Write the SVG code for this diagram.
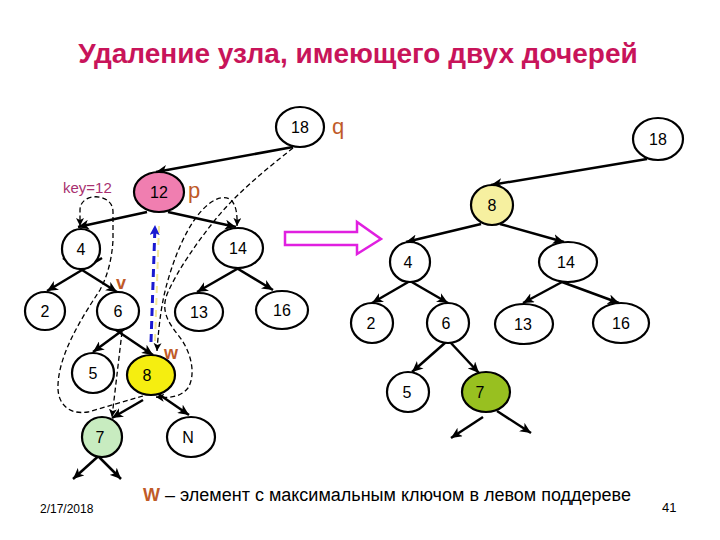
<svg xmlns="http://www.w3.org/2000/svg" width="720" height="540" viewBox="0 0 720 540">
<defs>
  <marker id="ah" markerUnits="userSpaceOnUse" markerWidth="12" markerHeight="10" refX="11" refY="5" orient="auto">
    <path d="M0,0 L11,5 L0,10 L3,5 z" fill="#000"/>
  </marker>
  <marker id="ahd" markerUnits="userSpaceOnUse" markerWidth="9" markerHeight="8" refX="8" refY="4" orient="auto-start-reverse">
    <path d="M0,0 L8,4 L0,8 L2,4 z" fill="#000"/>
  </marker>
  <marker id="ahb" markerUnits="userSpaceOnUse" markerWidth="10" markerHeight="12" refX="9" refY="5" orient="auto">
    <path d="M0,0 L10,5 L0,10 L2,5 z" fill="#1a1ad0"/>
  </marker>
</defs>
<style>
  .n ellipse { fill: #fff; stroke: #000; stroke-width: 2.2; }
  .n text { font-family: "Liberation Sans", Arial, sans-serif; font-size: 16px; text-anchor: middle; fill: #000; }
  .e { stroke: #000; stroke-width: 2.5; fill: none; marker-end: url(#ah); }
  .d { stroke: #000; stroke-width: 1.3; fill: none; stroke-dasharray: 5,3; }
  .lbl { font-family: "Liberation Sans", Arial, sans-serif; fill: #c05a28; }
</style>
<rect width="720" height="540" fill="#fff"/>

<text x="358" y="63" font-family="'Liberation Sans', Arial, sans-serif" font-size="28" font-weight="bold" fill="#c8145a" text-anchor="middle">Удаление узла, имеющего двух дочерей</text>

<g id="connectors">
  <!-- left tree -->
  <line class="e" x1="293" y1="147" x2="156" y2="172"/>
  <line class="e" x1="147" y1="212" x2="78" y2="227"/>
  <line class="e" x1="168" y1="212" x2="236" y2="227"/>
  <line class="e" x1="102" y1="258" x2="47" y2="291"/>
  <line class="e" x1="63" y1="258" x2="117" y2="292"/>
  <line class="e" x1="256" y1="258" x2="197" y2="292"/>
  <line class="e" x1="220" y1="258" x2="273" y2="290"/>
  <line class="e" x1="131" y1="324" x2="93" y2="352"/>
  <line class="e" x1="107" y1="324" x2="153" y2="355"/>
  <line class="e" x1="143" y1="400" x2="112" y2="418"/>
  <line class="e" x1="157" y1="393" x2="189" y2="415"/>
  <line class="e" x1="114" y1="442" x2="73" y2="479"/>
  <line class="e" x1="84" y1="442" x2="121" y2="479"/>
  <!-- right tree -->
  <line class="e" x1="647" y1="159" x2="491" y2="185"/>
  <line class="e" x1="481" y1="224" x2="406" y2="242"/>
  <line class="e" x1="500" y1="224" x2="564" y2="242"/>
  <line class="e" x1="410" y1="281" x2="372" y2="303"/>
  <line class="e" x1="410" y1="281" x2="448" y2="303"/>
  <line class="e" x1="562" y1="282" x2="523" y2="303"/>
  <line class="e" x1="562" y1="282" x2="619" y2="303"/>
  <line class="e" x1="446" y1="342" x2="412" y2="372"/>
  <line class="e" x1="450" y1="342" x2="479" y2="373"/>
  <line class="e" x1="483" y1="417" x2="451" y2="438"/>
  <line class="e" x1="497" y1="411" x2="531" y2="433"/>
  <!-- dashed search/relink paths -->
  <path class="d" marker-end="url(#ahd)" d="M143,396 L88,412 C70,415 57,405 58,385 C59,355 80,320 100,290 C108,275 112,258 113,240 L113,212 C113,192 80,192 80,210 L80,226"/>
  <path class="d" marker-end="url(#ahd)" d="M122,332 L112,417"/>
  <path class="d" marker-start="url(#ahd)" marker-end="url(#ahd)" d="M157,351 C159,322 162,300 168,280 C178,245 195,210 215,200 C232,192 238,205 237,226"/>
  <path class="d" marker-end="url(#ahd)" d="M293,148 C265,170 235,195 215,220 C195,245 178,270 168,292 C160,310 168,322 178,335 C192,352 196,375 188,388 C180,398 168,398 156,397"/>
  <line x1="155" y1="341" x2="159" y2="226" stroke="#f0e070" stroke-width="2" stroke-dasharray="7,5" opacity="0.7"/>
  <line x1="151" y1="342" x2="155" y2="226" stroke="#1a1ad0" stroke-width="3" stroke-dasharray="8,5" marker-end="url(#ahb)"/>
</g>

<!-- left tree nodes -->
<g id="L18" class="n"><ellipse cx="300" cy="127" rx="24" ry="20"/><text x="300" y="133">18</text></g>
<g id="L12" class="n"><ellipse cx="159" cy="192" rx="25" ry="20" style="fill:#f07eb0"/><text x="159" y="198">12</text></g>
<g id="L4" class="n"><ellipse cx="81" cy="249" rx="19" ry="20"/><text x="81" y="255">4</text></g>
<g id="L14" class="n"><ellipse cx="238" cy="248" rx="25" ry="20"/><text x="238" y="254">14</text></g>
<g id="L2" class="n"><ellipse cx="45" cy="311" rx="20" ry="19"/><text x="45" y="317">2</text></g>
<g id="L6" class="n"><ellipse cx="118" cy="311" rx="21" ry="19"/><text x="118" y="317">6</text></g>
<g id="L13" class="n"><ellipse cx="199" cy="312" rx="24" ry="19"/><text x="199" y="318">13</text></g>
<g id="L16" class="n"><ellipse cx="282" cy="310" rx="26" ry="19"/><text x="282" y="316">16</text></g>
<g id="L5" class="n"><ellipse cx="93" cy="373" rx="21" ry="20"/><text x="93" y="379">5</text></g>
<g id="L8" class="n"><ellipse cx="151" cy="375" rx="24" ry="20" style="fill:#f5ee10"/><text x="147" y="381">8</text></g>
<g id="L7" class="n"><ellipse cx="102" cy="437" rx="20" ry="20" style="fill:#c8ecc0"/><text x="100" y="443">7</text></g>
<g id="LN" class="n"><ellipse cx="191" cy="437" rx="24" ry="20"/><text x="188" y="443">N</text></g>

<!-- right tree nodes -->
<g id="R18" class="n"><ellipse cx="658" cy="139" rx="25" ry="21"/><text x="658" y="145">18</text></g>
<g id="R8" class="n"><ellipse cx="492" cy="205" rx="21" ry="20" style="fill:#f6f0a0"/><text x="492" y="211">8</text></g>
<g id="R4" class="n"><ellipse cx="410" cy="262" rx="20" ry="20"/><text x="408" y="268">4</text></g>
<g id="R14" class="n"><ellipse cx="568" cy="262" rx="29" ry="20"/><text x="566" y="268">14</text></g>
<g id="R2" class="n"><ellipse cx="372" cy="323" rx="21" ry="20"/><text x="371" y="329">2</text></g>
<g id="R6" class="n"><ellipse cx="448" cy="323" rx="21" ry="20"/><text x="446" y="329">6</text></g>
<g id="R13" class="n"><ellipse cx="524" cy="324" rx="29" ry="20"/><text x="523" y="330">13</text></g>
<g id="R16" class="n"><ellipse cx="621" cy="323" rx="28" ry="20"/><text x="621" y="329">16</text></g>
<g id="R5" class="n"><ellipse cx="408" cy="392" rx="21" ry="20"/><text x="407" y="398">5</text></g>
<g id="R7" class="n"><ellipse cx="486" cy="392" rx="24" ry="20" style="fill:#98c020"/><text x="480" y="398">7</text></g>

<!-- labels -->
<text class="lbl" x="332" y="134" font-size="22">q</text>
<text class="lbl" x="188" y="198" font-size="22">p</text>
<text class="lbl" x="116" y="289" font-size="18" font-weight="bold">v</text>
<text class="lbl" x="164" y="359" font-size="18" font-weight="bold">w</text>
<text x="63" y="193" font-family="'Liberation Sans', Arial, sans-serif" font-size="15" fill="#a83070">key=12</text>

<!-- transform arrow -->
<path d="M285,232 L357,232 L357,222 L381,239 L357,254 L357,245 L285,245 z" fill="none" stroke="#e020e0" stroke-width="2.5" stroke-linejoin="miter"/>

<!-- footer -->
<text x="143" y="501" font-family="'Liberation Sans', Arial, sans-serif" font-size="18" fill="#000"><tspan fill="#c05a28" font-weight="bold">W</tspan> – элемент с максимальным ключом в левом поддереве</text>
<text x="40" y="513" font-family="'Liberation Sans', Arial, sans-serif" font-size="12" fill="#000">2/17/2018</text>
<text x="662" y="512" font-family="'Liberation Sans', Arial, sans-serif" font-size="13" fill="#000">41</text>
</svg>
